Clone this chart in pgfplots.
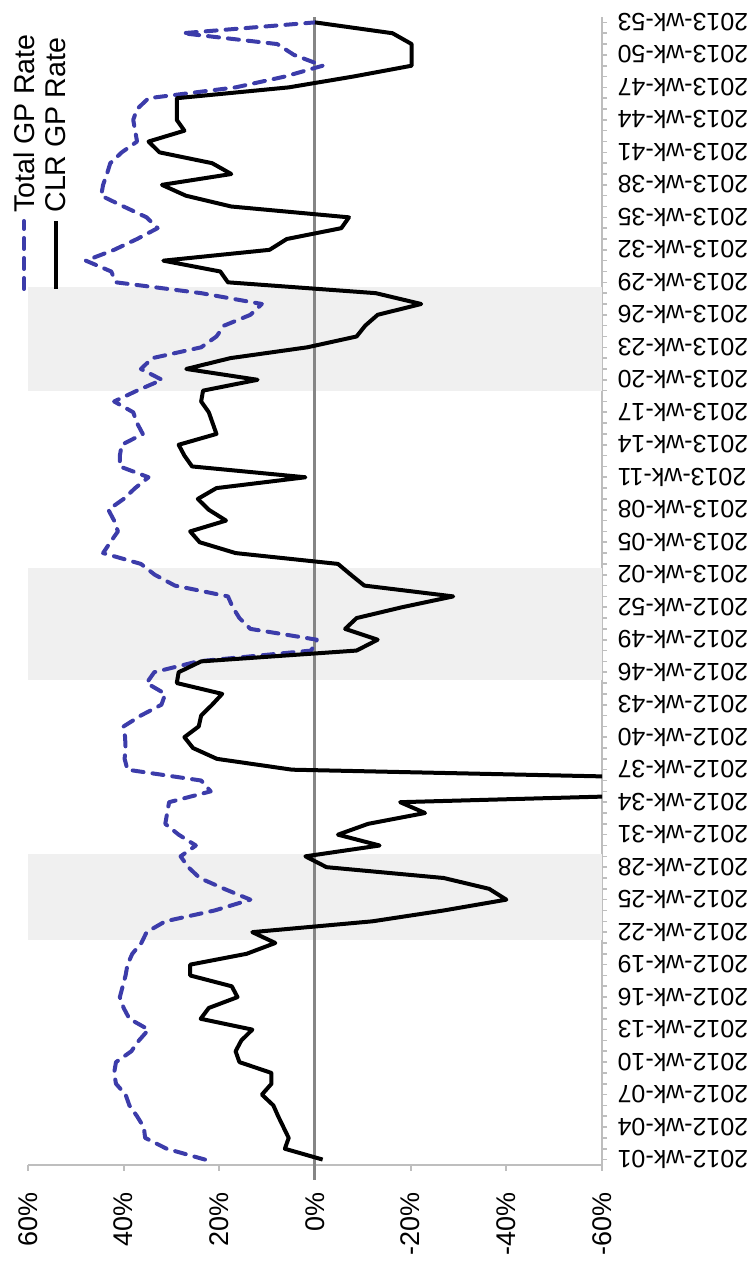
\documentclass[border=0pt]{standalone}
\usepackage{fontspec}
\setmainfont{Liberation Sans}
\usepackage{pgfplots}
\pgfplotsset{compat=1.18}
\usepackage{pgfplotstable}

\definecolor{bandgray}{RGB}{240,240,240}
\definecolor{zerogray}{RGB}{133,133,133}
\definecolor{axisgray}{RGB}{190,190,190}
\definecolor{gpblue}{RGB}{60,60,170}

\pgfplotstableread{
idx total clr
0 23.0 -1.6
1 31.0 6.3
2 35.5 5.5
3 35.8 6.6
4 37.2 7.7
5 38.8 8.7
6 39.6 11.1
7 41.6 9.1
8 42.0 9.1
9 41.6 15.8
10 38.4 16.6
11 36.8 15.4
12 34.8 13.1
13 38.8 23.9
14 40.0 22.2
15 40.8 16.2
16 40.2 17.4
17 39.6 26.1
18 39.2 26.1
19 38.2 14.3
20 36.3 8.3
21 35.2 13.1
22 31.3 -12.0
23 21.0 -26.9
24 13.5 -40.0
25 19.0 -36.4
26 24.1 -26.9
27 26.5 -2.4
28 28.1 2.0
29 24.9 -13.5
30 28.5 -4.8
31 31.3 -11.1
32 30.9 -23.0
33 30.5 -17.8
34 21.8 -100
35 23.8 -100
36 39.2 4.8
37 39.8 20.5
38 39.6 25.5
39 39.7 27.3
40 40.0 24.3
41 36.4 23.8
42 32.1 21.5
43 31.3 19.4
44 35.2 28.9
45 33.6 28.5
46 24.5 23.8
47 0.8 -8.7
48 -0.4 -13.1
49 13.5 -6.3
50 15.8 -8.7
51 17.2 -18.2
52 18.2 -28.9
53 29.3 -10.3
54 33.5 -7.5
55 36.4 -4.8
56 44.3 16.6
57 42.8 24.1
58 41.2 26.1
59 42.0 18.6
60 43.2 22.2
61 40.0 24.5
62 37.6 20.6
63 34.8 2.0
64 40.8 25.7
65 40.8 27.3
66 40.4 28.5
67 36.0 20.6
68 37.2 21.4
69 38.0 22.2
70 42.0 23.8
71 37.2 23.4
72 32.0 12.0
73 36.4 26.9
74 34.0 17.7
75 23.8 1.6
76 20.6 -8.7
77 19.0 -10.5
78 13.5 -13.1
79 11.1 -22.2
80 23.8 -12.7
81 41.6 18.2
82 42.6 19.8
83 47.9 31.7
84 42.0 9.5
85 37.2 5.9
86 32.9 -5.5
87 35.2 -7.1
88 40.0 17.5
89 44.7 27.0
90 44.3 32.0
91 43.5 17.5
92 42.8 21.5
93 40.4 32.5
94 37.2 34.8
95 37.6 27.3
96 38.0 28.9
97 37.2 28.9
98 34.8 28.9
99 16.6 5.5
100 6.3 -8.0
101 -1.6 -20.2
102 4.4 -20.2
103 7.9 -20.2
104 27.7 -16.2
105 0.0 0.0
}\gpdata

\begin{document}
\begin{tikzpicture}
\path[use as bounding box] (-14pt,-48pt) rectangle (359.5pt,582.5pt);
\begin{axis}[
  at={(0,0)}, anchor=south west,
  scale only axis, width=287pt, height=574pt,
  x dir=reverse, xmin=-60, xmax=60, ymin=-0.5, ymax=105.5,
  axis x line=bottom, axis y line=right,
  axis line style={-, draw=axisgray, line width=1pt},
  tick align=outside,
  xtick={-60,-40,-20,0,20,40,60},
  xticklabels={-60\%,-40\%,-20\%,0\%,20\%,40\%,60\%},
  xtick style={draw=axisgray, line width=1pt, /pgfplots/major tick length=3pt},
  extra x ticks={0},
  extra x tick labels={},
  extra x tick style={xtick style={draw=zerogray, line width=1.5pt, /pgfplots/major tick length=7.5pt}},
  xticklabel shift=6pt,
  ytick={0,...,105},
  yticklabels={2012-wk-01,,,2012-wk-04,,,2012-wk-07,,,2012-wk-10,,,2012-wk-13,,,2012-wk-16,,,2012-wk-19,,,2012-wk-22,,,2012-wk-25,,,2012-wk-28,,,2012-wk-31,,,2012-wk-34,,,2012-wk-37,,,2012-wk-40,,,2012-wk-43,,,2012-wk-46,,,2012-wk-49,,,2012-wk-52,,,2013-wk-02,,,2013-wk-05,,,2013-wk-08,,,2013-wk-11,,,2013-wk-14,,,2013-wk-17,,,2013-wk-20,,,2013-wk-23,,,2013-wk-26,,,2013-wk-29,,,2013-wk-32,,,2013-wk-35,,,2013-wk-38,,,2013-wk-41,,,2013-wk-44,,,2013-wk-47,,,2013-wk-50,,,2013-wk-53},
  ytick style={draw=axisgray, line width=0.8pt, /pgfplots/major tick length=2.5pt},
  xticklabel style={rotate=90, anchor=east, font=\fontsize{13.5}{15}\selectfont},
  yticklabel style={rotate=180, anchor=east, font=\fontsize{12.5}{15}\selectfont},
  clip=true,
]
\addplot[fill=bandgray, draw=none, forget plot] coordinates {(60,20.3) (-60,20.3) (-60,28.2) (60,28.2)} -- cycle;
\addplot[fill=bandgray, draw=none, forget plot] coordinates {(60,44.3) (-60,44.3) (-60,54.6) (60,54.6)} -- cycle;
\addplot[fill=bandgray, draw=none, forget plot] coordinates {(60,71.0) (-60,71.0) (-60,80.6) (60,80.6)} -- cycle;
\addplot[zerogray, line width=1.5pt, forget plot] coordinates {(0,-0.5) (0,105.5)};
\addplot[gpblue, line width=2pt, dash pattern=on 5.5pt off 4.5pt, line cap=round, line join=round] table[x=total, y=idx] {\gpdata};
\addplot[black, line width=2pt, line join=round] table[x=clr, y=idx] {\gpdata};
\end{axis}
\draw[gpblue, line width=2pt, dash pattern=on 5.5pt off 4.5pt, line cap=round] (-2pt,438pt) -- (-2pt,472pt);
\node[rotate=90, anchor=west, inner sep=0pt, font=\fontsize{14.3}{17}\selectfont] at (-2pt,476pt) {Total GP Rate};
\draw[black, line width=2pt] (14pt,438pt) -- (14pt,472pt);
\node[rotate=90, anchor=west, inner sep=0pt, font=\fontsize{14.3}{17}\selectfont] at (14pt,476pt) {CLR GP Rate};
\end{tikzpicture}
\end{document}
